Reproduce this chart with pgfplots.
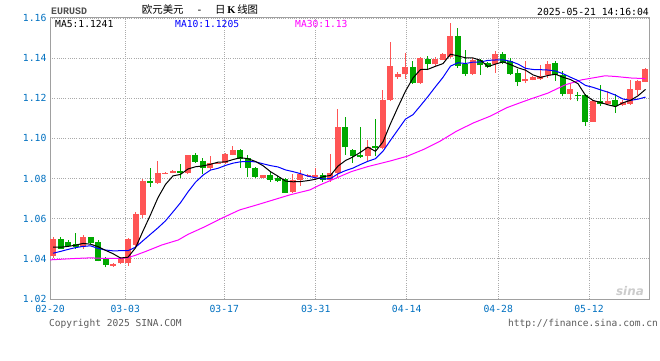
\documentclass[border=0pt]{standalone}
\usepackage{fontspec}
\setmainfont{DejaVu Sans Mono}
\newfontfamily\cjk{Noto Sans CJK SC}
\newfontfamily\monob{Liberation Mono}
\newfontfamily\serifb{Liberation Serif}
\newfontfamily\sinafont{DejaVu Sans}
\usepackage{pgfplots}
\usepackage{pgfplotstable}
\pgfplotsset{compat=1.18}
\definecolor{upred}{RGB}{255,85,85}
\definecolor{dngreen}{RGB}{0,168,0}
\definecolor{tickblue}{RGB}{0,112,192}
\definecolor{framec}{RGB}{160,160,160}
\definecolor{gridc}{RGB}{170,170,170}
\definecolor{eurgray}{RGB}{80,80,80}
\definecolor{footgray}{RGB}{90,90,90}
\definecolor{maten}{RGB}{0,0,255}
\definecolor{mathirty}{RGB}{255,0,255}

% up candles: index open high low close
\pgfplotstableread{
i o h l c
0 1.0414 1.0511 1.0403 1.0501
4 1.0461 1.0521 1.0451 1.0511
8 1.0365 1.0378 1.0361 1.0375
9 1.0378 1.0411 1.0375 1.0403
10 1.0381 1.0503 1.0365 1.0501
11 1.0469 1.0631 1.0461 1.0624
12 1.0619 1.0797 1.0602 1.0790
14 1.0780 1.0890 1.0774 1.0830
15 1.0824 1.0832 1.0822 1.0830
16 1.0830 1.0843 1.0827 1.0837
18 1.0827 1.0918 1.0824 1.0915
21 1.0852 1.0913 1.0843 1.0877
22 1.0875 1.0880 1.0874 1.0879
23 1.0877 1.0927 1.0872 1.0923
24 1.0918 1.0960 1.0915 1.0943
28 1.0805 1.0820 1.0803 1.0818
32 1.0735 1.0823 1.0727 1.0793
33 1.0793 1.0843 1.0764 1.0823
34 1.0813 1.0822 1.0810 1.0818
35 1.0807 1.0852 1.0793 1.0818
37 1.0793 1.0923 1.0785 1.0827
38 1.0827 1.1148 1.0810 1.1055
42 1.0910 1.0993 1.0890 1.0956
44 1.0951 1.1242 1.0946 1.1192
45 1.1189 1.1478 1.1184 1.1362
46 1.1304 1.1329 1.1297 1.1320
47 1.1319 1.1427 1.1294 1.1355
49 1.1277 1.1405 1.1272 1.1402
51 1.1369 1.1405 1.1361 1.1394
52 1.1391 1.1427 1.1389 1.1422
53 1.1405 1.1577 1.1402 1.1510
56 1.1322 1.1402 1.1316 1.1389
59 1.1372 1.1435 1.1327 1.1422
63 1.1284 1.1384 1.1276 1.1297
64 1.1292 1.1309 1.1289 1.1304
65 1.1297 1.1367 1.1292 1.1312
66 1.1314 1.1384 1.1301 1.1372
69 1.1222 1.1276 1.1193 1.1247
72 1.1084 1.1193 1.1084 1.1188
74 1.1171 1.1237 1.1171 1.1188
76 1.1168 1.1193 1.1164 1.1179
77 1.1174 1.1292 1.1168 1.1247
78 1.1242 1.1292 1.1214 1.1284
79 1.1281 1.1350 1.1281 1.1347
}\upt

% down candles: index open high low close
\pgfplotstableread{
i o h l c
1 1.0501 1.0508 1.0448 1.0451
2 1.0484 1.0494 1.0458 1.0464
3 1.0474 1.0528 1.0448 1.0458
5 1.0508 1.0511 1.0474 1.0481
6 1.0484 1.0494 1.0388 1.0391
7 1.0398 1.0411 1.0358 1.0371
13 1.0790 1.0852 1.0760 1.0780
17 1.0840 1.0873 1.0802 1.0827
19 1.0915 1.0927 1.0880 1.0885
20 1.0888 1.0902 1.0822 1.0852
25 1.0943 1.0948 1.0855 1.0898
26 1.0902 1.0918 1.0810 1.0852
27 1.0855 1.0860 1.0802 1.0810
29 1.0818 1.0835 1.0785 1.0794
30 1.0802 1.0813 1.0784 1.0786
31 1.0800 1.0805 1.0727 1.0730
36 1.0818 1.0830 1.0785 1.0793
39 1.1055 1.1106 1.0918 1.0956
40 1.0940 1.0946 1.0877 1.0910
41 1.0917 1.1055 1.0902 1.0907
43 1.0960 1.1098 1.0910 1.0950
48 1.1355 1.1385 1.1272 1.1277
50 1.1398 1.1410 1.1339 1.1369
54 1.1510 1.1552 1.1352 1.1361
55 1.1369 1.1442 1.1311 1.1322
57 1.1389 1.1394 1.1316 1.1364
58 1.1377 1.1382 1.1352 1.1355
60 1.1422 1.1432 1.1369 1.1377
61 1.1385 1.1399 1.1316 1.1322
62 1.1327 1.1344 1.1261 1.1283
67 1.1375 1.1384 1.1287 1.1314
68 1.1314 1.1337 1.1209 1.1222
70 1.1217 1.1231 1.1184 1.1209
71 1.1217 1.1222 1.1064 1.1081
73 1.1184 1.1267 1.1164 1.1171
75 1.1193 1.1221 1.1129 1.1164
}\dnt

\begin{document}
\begin{tikzpicture}[x=1bp,y=1bp]
\useasboundingbox (0,0) rectangle (660,360);
\begin{axis}[
  at={(50bp,61bp)}, anchor=south west,
  width=599bp, height=281bp, scale only axis,
  xmin=-0.4, xmax=79.47, ymin=1.02, ymax=1.16,
  axis line style={draw=framec, line width=1bp},
  xtick={-0.4,9.64,22.84,35.03,47.16,59.37,71.47},
  xticklabels={02-20,03-03,03-17,03-31,04-14,04-28,05-12},
  ytick={1.02,1.04,1.06,1.08,1.10,1.12,1.14,1.16},
  yticklabels={1.02,1.04,1.06,1.08,1.10,1.12,1.14,1.16},
  major tick length=0pt,
  tick label style={font=\fontsize{9.8}{10}\selectfont, text=tickblue},
  xticklabel style={yshift=-3bp},
  grid=major,
  major grid style={draw=gridc, dash pattern=on 1bp off 1.2bp, line width=0.9bp},
  candle/.style={draw=none, mark=none, error bars/.cd, y dir=plus, y explicit, error mark=none},
]
% wicks
\addplot[candle, error bar style={draw=upred, line width=1bp}]
  table[x=i, y=l, y error expr=\thisrow{h}-\thisrow{l}] {\upt};
\addplot[candle, error bar style={draw=dngreen, line width=1bp}]
  table[x=i, y=l, y error expr=\thisrow{h}-\thisrow{l}] {\dnt};
% bodies
\addplot[candle, error bar style={draw=upred, line width=6bp}]
  table[x=i, y=o, y error expr=\thisrow{c}-\thisrow{o}] {\upt};
\addplot[candle, error bar style={draw=dngreen, line width=6bp}]
  table[x=i, y=c, y error expr=\thisrow{o}-\thisrow{c}] {\dnt};
% MA30
\addplot[mathirty, line width=1bp, mark=none] coordinates {
(-0.4,1.0395) (3,1.0402) (5,1.0405) (7,1.0402) (9,1.0402) (10,1.0406) (11,1.0418)
(12.3,1.0436) (14.5,1.0469) (16.7,1.0494) (18,1.0522) (20.3,1.0561) (22.7,1.0606)
(24.9,1.0644) (27.2,1.0669) (29.4,1.0694) (31.6,1.0719) (34.3,1.0744) (35.4,1.0765)
(37.6,1.0800) (39.8,1.0835) (42.0,1.0860) (44.9,1.0887) (47.2,1.0911) (49.4,1.0945)
(51.6,1.0986) (53.8,1.1036) (56.1,1.1078) (58.3,1.1111) (60.5,1.1153) (62.3,1.1178)
(63.8,1.1198) (66.0,1.1226) (68.3,1.1267) (70.5,1.1292) (72.7,1.1306) (73.6,1.1312)
(74.9,1.1309) (77.1,1.1301) (79,1.1298)
};
% MA10
\addplot[maten, line width=1bp, mark=none] coordinates {
(0,1.0428) (1,1.0437) (2,1.0447) (3,1.0456) (4,1.0462) (5,1.0465) (6,1.0452) (7,1.0444)
(8,1.0440) (9,1.04406) (10,1.04406) (11,1.04579) (12,1.04905) (13,1.05227) (14,1.05546)
(15,1.05895) (16,1.06341) (17,1.06797) (18,1.07337) (19,1.07819) (20,1.0817) (21,1.08423)
(22,1.08512) (23,1.08655) (24,1.08768) (25,1.08836) (26,1.08851) (27,1.08834) (28,1.08737)
(29,1.08646) (30,1.08579) (31,1.08432) (32,1.08346) (33,1.08246) (34,1.08121) (35,1.08041)
(36,1.07982) (37,1.07999) (38,1.08236) (39,1.08398) (40,1.08523) (41,1.087) (42,1.08863)
(43,1.0899) (44,1.09364) (45,1.09908) (46,1.10435) (47,1.10963) (48,1.11185) (49,1.11631)
(50,1.1209) (51,1.12577) (52,1.13043) (53,1.13603) (54,1.13772) (55,1.13732) (56,1.13801)
(57,1.1381) (58,1.13888) (59,1.13908) (60,1.13916) (61,1.13844) (62,1.13705) (63,1.13492)
(64,1.13435) (65,1.13425) (66,1.13408) (67,1.13358) (68,1.13225) (69,1.1305) (70,1.12882)
(71,1.12641) (72,1.12546) (73,1.1242) (74,1.12304) (75,1.12156) (76,1.11963) (77,1.11896)
(78,1.11958) (79,1.12058)
};
% MA5
\addplot[black, line width=1bp, mark=none] coordinates {
(0,1.0458) (1,1.0458) (2,1.0462) (3,1.0468) (4,1.0477) (5,1.0473) (6,1.0461) (7,1.04424)
(8,1.04258) (9,1.04042) (10,1.04082) (11,1.04548) (12,1.05386) (13,1.06196) (14,1.0705)
(15,1.07708) (16,1.08134) (17,1.08208) (18,1.08478) (19,1.08588) (20,1.08632) (21,1.08712)
(22,1.08816) (23,1.08832) (24,1.08948) (25,1.0904) (26,1.0899) (27,1.08852) (28,1.08642)
(29,1.08344) (30,1.08118) (31,1.07874) (32,1.0784) (33,1.0785) (34,1.07898) (35,1.07964)
(36,1.0809) (37,1.08158) (38,1.08622) (39,1.08898) (40,1.09082) (41,1.0931) (42,1.09568)
(43,1.09358) (44,1.0983) (45,1.10734) (46,1.1156) (47,1.12358) (48,1.13012) (49,1.13432)
(50,1.13446) (51,1.13594) (52,1.13728) (53,1.14194) (54,1.14112) (55,1.14018) (56,1.14008)
(57,1.13892) (58,1.13582) (59,1.13704) (60,1.13814) (61,1.1368) (62,1.13518) (63,1.13402)
(64,1.13166) (65,1.13036) (66,1.13136) (67,1.13198) (68,1.13048) (69,1.12934) (70,1.12728)
(71,1.12146) (72,1.11894) (73,1.11792) (74,1.11674) (75,1.11584) (76,1.1178) (77,1.11898)
(78,1.12124) (79,1.12442)
};
\end{axis}
% header texts
\node[anchor=west, inner sep=0pt, text=eurgray, font=\monob\bfseries\fontsize{10}{10}\selectfont] at (51,348.5) {EURUSD};
\node[inner sep=0pt, font=\fontsize{10.5}{11}\selectfont] at (200,350)
  {{\cjk 欧元美元}\ \ -\ \ {\cjk 日}\,{\serifb\bfseries K}\,{\cjk 线图}};
\node[anchor=east, inner sep=0pt, font=\fontsize{9.8}{10}\selectfont] at (649,348) {2025-05-21 14:16:04};
% MA legend inside the plot
\node[anchor=west, inner sep=0pt, font=\fontsize{9.7}{10}\selectfont, text=black] at (55,336) {MA5:1.1241};
\node[anchor=west, inner sep=0pt, font=\fontsize{9.7}{10}\selectfont, text=maten] at (175,336) {MA10:1.1205};
\node[anchor=west, inner sep=0pt, font=\fontsize{9.7}{10}\selectfont, text=mathirty] at (295,336) {MA30:1.13};
% watermark
\node[inner sep=0pt, text=gray!40, font=\sinafont\bfseries\itshape\fontsize{12}{12}\selectfont] at (630,69) {sina};
% footer
\node[anchor=west, inner sep=0pt, text=footgray, font=\fontsize{9.6}{10}\selectfont] at (49,36) {Copyright 2025 SINA.COM};
\node[anchor=east, inner sep=0pt, text=footgray, font=\fontsize{9.6}{10}\selectfont] at (658,36) {http://finance.sina.com.cn};
\end{tikzpicture}
\end{document}
